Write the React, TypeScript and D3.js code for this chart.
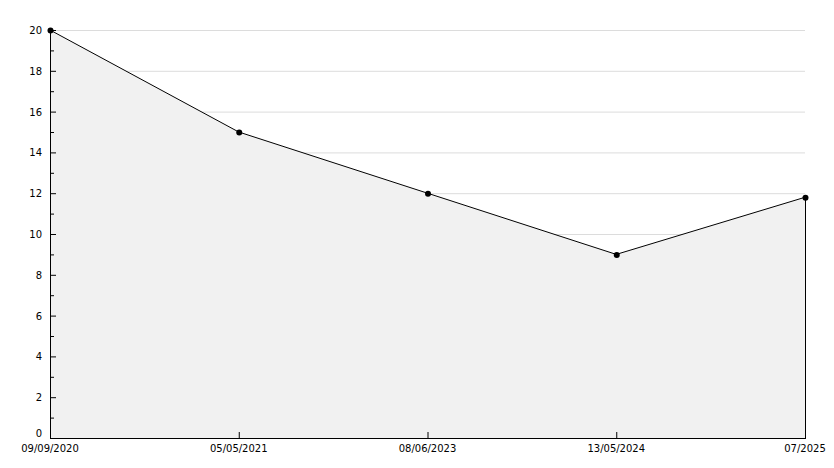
import { useRef, useEffect } from "react";
import * as d3 from "d3";

const dates = ["09/09/2020", "05/05/2021", "08/06/2023", "13/05/2024", "07/2025"];
const values = [20, 15, 12, 9, 11.8];
const yTicks = [0, 2, 4, 6, 8, 10, 12, 14, 16, 18, 20];
const yMinor = [1, 3, 5, 7, 9, 11, 13, 15, 17, 19];

export default function App() {
  const gRef = useRef(null);

  useEffect(() => {
    const w = 834;
    const h = 468;
    const left = 50;
    const right = 805;
    const top = 30;
    const bottom = 438;

    const x = d3.scalePoint<string>().domain(dates).range([left, right]);
    const y = d3.scaleLinear().domain([0, 20]).range([bottom, top]);

    const svg = d3.select(gRef.current);
    svg.selectAll("*").remove();

    // grid
    svg
      .selectAll("line.grid")
      .data(yTicks.filter((d) => d > 0))
      .enter()
      .append("line")
      .attr("x1", left)
      .attr("x2", right)
      .attr("y1", (d) => y(d) + 0.5)
      .attr("y2", (d) => y(d) + 0.5)
      .attr("stroke", "#dcdcdc")
      .attr("stroke-width", 1);

    const pts = dates.map((d, i) => [x(d) as number, y(values[i])] as [number, number]);

    const area: any = d3
      .area<[number, number]>()
      .x((d) => d[0])
      .y0(bottom)
      .y1((d) => d[1]);
    svg.append("path").attr("d", area(pts)).attr("fill", "#f1f1f1");

    // right edge of the area
    svg
      .append("line")
      .attr("x1", right + 0.5)
      .attr("x2", right + 0.5)
      .attr("y1", y(values[values.length - 1]))
      .attr("y2", bottom)
      .attr("stroke", "#000");

    const line: any = d3
      .line<[number, number]>()
      .x((d) => d[0])
      .y((d) => d[1]);
    svg
      .append("path")
      .attr("d", line(pts))
      .attr("fill", "none")
      .attr("stroke", "#000")
      .attr("stroke-width", 1);

    // axes
    svg
      .append("line")
      .attr("x1", left + 0.5)
      .attr("x2", left + 0.5)
      .attr("y1", top)
      .attr("y2", bottom + 0.5)
      .attr("stroke", "#000");
    svg
      .append("line")
      .attr("x1", left)
      .attr("x2", right + 1)
      .attr("y1", bottom + 0.5)
      .attr("y2", bottom + 0.5)
      .attr("stroke", "#000");

    // y ticks
    svg
      .selectAll("line.ymaj")
      .data(yTicks)
      .enter()
      .append("line")
      .attr("x1", left)
      .attr("x2", left + 6)
      .attr("y1", (d) => y(d) + 0.5)
      .attr("y2", (d) => y(d) + 0.5)
      .attr("stroke", "#000");
    svg
      .selectAll("line.ymin")
      .data(yMinor)
      .enter()
      .append("line")
      .attr("x1", left)
      .attr("x2", left + 4)
      .attr("y1", (d) => y(d) + 0.5)
      .attr("y2", (d) => y(d) + 0.5)
      .attr("stroke", "#000");

    svg
      .selectAll("text.ylab")
      .data(yTicks)
      .enter()
      .append("text")
      .attr("x", left - 8)
      .attr("y", (d) => (d === 0 ? y(d) - 1 : y(d) + 4))
      .attr("text-anchor", "end")
      .attr("font-family", "DejaVu Sans")
      .attr("font-size", 10)
      .attr("fill", "#000")
      .text((d) => d);

    // x ticks
    svg
      .selectAll("line.xt")
      .data(dates)
      .enter()
      .append("line")
      .attr("x1", (d) => (x(d) as number) + 0.5)
      .attr("x2", (d) => (x(d) as number) + 0.5)
      .attr("y1", bottom - 6)
      .attr("y2", bottom)
      .attr("stroke", "#000");

    svg
      .selectAll("text.xlab")
      .data(dates)
      .enter()
      .append("text")
      .attr("x", (d) => x(d) as number)
      .attr("y", bottom + 14)
      .attr("text-anchor", "middle")
      .attr("font-family", "DejaVu Sans")
      .attr("font-size", 10)
      .attr("fill", "#000")
      .text((d) => d);

    // markers
    svg
      .selectAll("circle.pt")
      .data(pts)
      .enter()
      .append("circle")
      .attr("cx", (d) => d[0] + 0.5)
      .attr("cy", (d) => d[1] + 0.5)
      .attr("r", 3)
      .attr("fill", "#000");

    d3.select(gRef.current).attr("data-size", `${w}x${h}`);
  }, []);

  return (
    <svg width={834} height={468} style={{ display: "block", position: "absolute", left: 0, top: 0, background: "#fff" }}>
      <g ref={gRef}></g>
    </svg>
  );
}
